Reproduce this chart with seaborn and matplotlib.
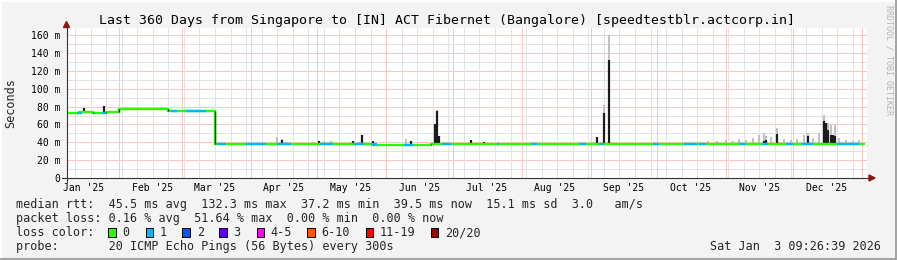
import numpy as np
import pandas as pd
import matplotlib
matplotlib.use("Agg")
import matplotlib.pyplot as plt
import matplotlib.dates as mdates
import seaborn as sns
from matplotlib.patches import Polygon, Rectangle
from matplotlib.lines import Line2D

# ---------------- data ----------------
title = "Last 360 Days from Singapore to [IN] ACT Fibernet (Bangalore) [speedtestblr.actcorp.in]"
range_start = "2025-01-08 09:26:39"
range_end = "2026-01-03 09:26:39"
data_end = "2026-01-02 04:00"

# median rtt (ms), step levels starting at these times
level_start = ["2025-01-08 09:26", "2025-01-14", "2025-01-20", "2025-01-26", "2025-02-01",
               "2025-02-23", "2025-03-16", "2025-05-26", "2025-06-21", "2025-06-26",
               "2025-07-20", "2025-09-11", "2025-10-25"]
level_ms = [73.0, 74.0, 73.2, 73.6, 77.7, 75.5, 38.3, 37.4, 38.2, 37.8, 38.1, 37.7, 38.0]

# stretches where the median line shows 1/20 loss (blue)
loss1_start = ["2025-01-13", "2025-01-24", "2025-02-24", "2025-03-03", "2025-03-17", "2025-03-30",
               "2025-04-13", "2025-05-02", "2025-05-17", "2025-05-25", "2025-06-09", "2025-06-26",
               "2025-07-21", "2025-08-05", "2025-08-27", "2025-09-05", "2025-09-29", "2025-10-13",
               "2025-10-20", "2025-11-07", "2025-11-17", "2025-11-28", "2025-12-05", "2025-12-21"]
loss1_end = ["2025-01-15", "2025-01-26", "2025-02-27", "2025-03-12", "2025-03-21", "2025-04-08",
             "2025-04-19", "2025-05-08", "2025-05-22", "2025-05-28", "2025-06-13", "2025-06-30",
             "2025-07-22", "2025-08-08", "2025-08-30", "2025-09-07", "2025-10-02", "2025-10-19",
             "2025-10-23", "2025-11-10", "2025-11-20", "2025-12-01", "2025-12-10", "2025-12-31"]

# dense smoke (black) peaks
black_dates = ["2025-01-16", "2025-01-25", "2025-01-29", "2025-01-30", "2025-02-08", "2025-02-14",
               "2025-04-15", "2025-05-02", "2025-05-17", "2025-05-21", "2025-05-26", "2025-06-12",
               "2025-06-23", "2025-06-24", "2025-06-25", "2025-07-09", "2025-07-15",
               "2025-09-04", "2025-09-07", "2025-09-09 12:00",
               "2025-11-18", "2025-11-19", "2025-11-24", "2025-12-08", "2025-12-15",
               "2025-12-15 18:00", "2025-12-17", "2025-12-18", "2025-12-19", "2025-12-20"]
black_top = [79.0, 80.7, 75.0, 75.5, 78.7, 78.8,
             42.6, 41.5, 41.0, 48.2, 41.0, 41.0,
             60.5, 75.0, 47.4, 42.6, 40.5,
             46.3, 72.5, 132.3,
             42.0, 43.0, 49.3, 47.0, 63.9,
             62.0, 53.8, 48.2, 48.2, 47.5]

# light smoke (grey) peaks
grey_dates = ["2025-04-13", "2025-04-15", "2025-05-04", "2025-05-07", "2025-06-10", "2025-06-24",
              "2025-09-07", "2025-09-09 12:00", "2025-10-20", "2025-10-24", "2025-10-28",
              "2025-11-01", "2025-11-04", "2025-11-07", "2025-11-10", "2025-11-13", "2025-11-16",
              "2025-11-18", "2025-11-19", "2025-11-21", "2025-11-24", "2025-11-27", "2025-11-30",
              "2025-12-03", "2025-12-06", "2025-12-08", "2025-12-10", "2025-12-13", "2025-12-15",
              "2025-12-17", "2025-12-18", "2025-12-20", "2025-12-22", "2025-12-25", "2025-12-28",
              "2025-12-31"]
grey_top = [46.3, 44.0, 42.0, 41.0, 43.7, 76.0,
            81.8, 160.3, 40.5, 41.5, 42.0,
            43.0, 41.5, 44.0, 43.0, 45.0, 48.0,
            50.0, 47.0, 46.0, 56.0, 44.0, 43.0,
            44.0, 48.0, 50.8, 45.0, 50.0, 70.6,
            61.3, 59.4, 59.0, 45.0, 43.0, 42.0,
            43.0]

loss_labels = ["0", "1", "2", "3", "4-5", "6-10", "11-19", "20/20"]
loss_colors = ["#26ff00", "#00b8ff", "#0059ff", "#5e00ff", "#ff00ff", "#ff5500", "#ff0000", "#a10000"]

month_labels = ["Jan '25", "Feb '25", "Mar '25", "Apr '25", "May '25", "Jun '25",
                "Jul '25", "Aug '25", "Sep '25", "Oct '25", "Nov '25", "Dec '25"]
yticks = [0, 20, 40, 60, 80, 100, 120, 140, 160]
ytick_labels = ["0", "20 m", "40 m", "60 m", "80 m", "100 m", "120 m", "140 m", "160 m"]

stats_rtt = "median rtt:  45.5 ms avg  132.3 ms max  37.2 ms min  39.5 ms now  15.1 ms sd  3.0   am/s"
stats_loss = "packet loss: 0.16 % avg  51.64 % max  0.00 % min  0.00 % now"
probe_text = "probe:       20 ICMP Echo Pings (56 Bytes) every 300s"
stamp_text = "Sat Jan  3 09:26:39 2026"


def td(v):
    return pd.to_datetime(pd.Series(v), format="mixed")


# ---------------- figure ----------------
W, H = 897, 260
sns.set_theme(style="white")
plt.rcParams['font.family'] = ['DejaVu Sans Mono', 'DejaVu Sans']
BG = "#f3f3f3"


def fx(px):
    return px / W


def fy(py):
    return 1 - py / H


fig = plt.figure(figsize=(W / 100, H / 100), dpi=100, facecolor=BG)
ax = fig.add_axes([fx(67), fy(178), 800 / W, 150.5 / H])
ax.set_facecolor("white")
for s in ax.spines.values():
    s.set_visible(False)

t0 = pd.Timestamp(range_start)
t1 = pd.Timestamp(range_end)
ax.set_xlim(mdates.date2num(t0), mdates.date2num(t1))
ax.set_ylim(0, 168.7)

# grid: fine dotted rrdtool grid, rendered as light hairlines
MINOR = "#e2e2e2"
MAJOR = "#f7c6c6"
gkw = dict(lw=0.72, ls="-", zorder=1)
for v in range(10, 170, 20):
    ax.axhline(v, color=MINOR, **gkw)
for v in range(20, 170, 20):
    ax.axhline(v, color=MAJOR, **gkw)
weeks = pd.date_range("2025-01-12", "2025-12-31", freq="7D")
for w in weeks:
    ax.axvline(mdates.date2num(w), color=MINOR, **gkw)
months = pd.date_range("2025-02-01", "2026-01-01", freq="MS")
for m in months:
    ax.axvline(mdates.date2num(m), color=MAJOR, **gkw)

# step level lookup
lvl_t = td(level_start)
lvl_vals = lvl_t.values


def level_at(ts):
    idx = np.searchsorted(lvl_vals, np.datetime64(pd.Timestamp(ts)), side="right") - 1
    return level_ms[max(idx, 0)]


# grey smoke
gd = td(grey_dates)
ax.vlines(mdates.date2num(gd), [level_at(d) - 0.5 for d in gd], grey_top,
          color="#bcbcbc", lw=1.3, zorder=2)
# black smoke
bd = td(black_dates)
ax.vlines(mdates.date2num(bd), [level_at(d) - 0.5 for d in bd], black_top,
          color="#1c1c1c", lw=1.6, zorder=3)

# median line (loss 0 colour)
df = pd.DataFrame({"t": mdates.date2num(td(level_start + [data_end])),
                   "ms": level_ms + [level_ms[-1]]})
sns.lineplot(data=df, x="t", y="ms", drawstyle="steps-post", color=loss_colors[0],
             lw=1.7, ax=ax, zorder=4, legend=False)
# black transitions at level changes
chg_t = mdates.date2num(lvl_t[1:])
ax.vlines(chg_t, np.minimum(level_ms[:-1], level_ms[1:]), np.maximum(level_ms[:-1], level_ms[1:]),
          color="#1c1c1c", lw=1.0, zorder=5)
# loss 1 segments
for s, e in zip(loss1_start, loss1_end):
    ax.hlines(level_at(s), mdates.date2num(pd.Timestamp(s)), mdates.date2num(pd.Timestamp(e)),
              color=loss_colors[1], lw=1.7, zorder=5)

# ticks (labels centred mid-month)
label_pos = pd.date_range("2025-01-01", "2025-12-01", freq="MS") + pd.Timedelta(days=15)
ax.set_xticks(mdates.date2num(label_pos))
ax.set_xticklabels(month_labels)
ax.set_yticks(yticks)
ax.set_yticklabels(ytick_labels)
ax.tick_params(axis="x", length=0, pad=3.6, labelsize=7, colors="#000000")
ax.tick_params(axis="y", length=0, pad=5.0, labelsize=7, colors="#000000")
ax.set_xlabel("")
ax.set_ylabel("")
ax.grid(False)

# axes lines and arrows
AX = "#333333"
ARROW = "#8e1414"
fig.add_artist(Line2D([fx(66.5), fx(66.5)], [fy(182), fy(27)], color=AX, lw=0.8, zorder=5))
fig.add_artist(Line2D([fx(62), fx(869)], [fy(178), fy(178)], color=AX, lw=0.8, zorder=5))
fig.add_artist(Polygon([[fx(63.5), fy(27.5)], [fx(69.5), fy(27.5)], [fx(66.5), fy(21.5)]],
                       closed=True, color=ARROW, zorder=6))
fig.add_artist(Polygon([[fx(869), fy(175)], [fx(869), fy(181)], [fx(875), fy(178)]],
                       closed=True, color=ARROW, zorder=6))

# texts
fig.text(fx(446.5), fy(24), title, ha="center", va="baseline", fontsize=9.5, color="#000000")
fig.text(fx(11), fy(102.75), "Seconds", rotation=90, ha="center", va="center", fontsize=8.5)
fig.text(fx(888.5), fy(5), "RRDTOOL / TOBI OETIKER", rotation=270, ha="center", va="top",
         fontsize=6, color="#b4b4b4")

LFS = 8.5
fig.text(fx(16), fy(208.3), stats_rtt, ha="left", va="baseline", fontsize=LFS)
fig.text(fx(16), fy(222.3), stats_loss, ha="left", va="baseline", fontsize=LFS)
fig.text(fx(16), fy(236.3), "loss color:", ha="left", va="baseline", fontsize=LFS)
fig.text(fx(16), fy(250.3), probe_text, ha="left", va="baseline", fontsize=LFS)
fig.text(fx(880.5), fy(250.3), stamp_text, ha="right", va="baseline", fontsize=LFS)

box_x = [108.3, 145.7, 182.3, 219.0, 256.7, 307.3, 365.7, 430.7]
text_x = [122.7, 159.3, 196.7, 233.3, 270.7, 321.7, 380.0, 445.0]
for bx, tx, lab, col in zip(box_x, text_x, loss_labels, loss_colors):
    fig.add_artist(Rectangle((fx(bx), fy(236.7)), fx(7.7), 8.6 / H, facecolor=col,
                             edgecolor="#000000", lw=0.7, zorder=5))
    fig.text(fx(tx), fy(236.3), lab, ha="left", va="baseline", fontsize=LFS)

# 3D frame
fig.add_artist(Rectangle((0, fy(2)), 1, 2 / H, facecolor="#ffffff", edgecolor="none", zorder=1))
fig.add_artist(Rectangle((0, 0), fx(2), 1, facecolor="#ffffff", edgecolor="none", zorder=1))
fig.add_artist(Rectangle((0, 0), 1, 2.5 / H, facecolor="#a4a4a4", edgecolor="none", zorder=1))
fig.add_artist(Rectangle((fx(894.5), 0), fx(2.5), 1, facecolor="#a4a4a4", edgecolor="none", zorder=1))

fig.savefig("out.png", dpi=100, facecolor=BG)
